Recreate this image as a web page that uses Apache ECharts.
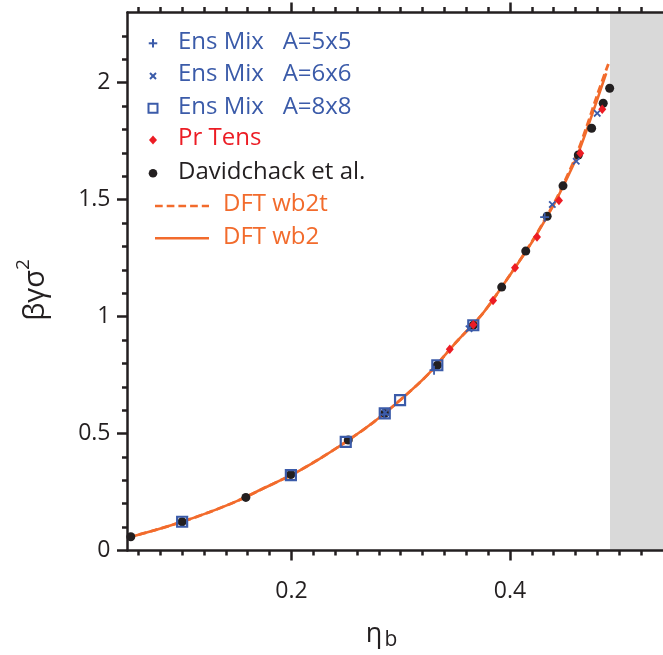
<!DOCTYPE html>
<html>
<head>
<meta charset="utf-8">
<script src="https://cdn.jsdelivr.net/npm/echarts@6/dist/echarts.min.js"></script>
<style>
  html, body { margin: 0; padding: 0; background: #fff; }
  #chart { width: 663px; height: 655px; }
</style>
</head>
<body>
<div id="chart"></div>
<script>
// Surface tension of the hard-sphere fluid at a hard wall vs bulk packing fraction
const etaMajorTicks = [0.2, 0.4];
const etaTickLabels = ['0.2', '0.4'];
const gammaMajorTicks = [0, 0.5, 1, 1.5, 2];
const gammaTickLabels = ['0', '0.5', '1', '1.5', '2'];
const freezingEta = 0.4915;

// Ensemble mixing, A = 5x5
const mix5Eta = [0.285, 0.3305, 0.4317];
const mix5Gamma = [0.582, 0.771, 1.425];
// Ensemble mixing, A = 6x6
const mix6Eta = [0.2858, 0.3625, 0.4387, 0.4606, 0.4798];
const mix6Gamma = [0.590, 0.948, 1.479, 1.664, 1.869];
// Ensemble mixing, A = 8x8
const mix8Eta = [0.1, 0.1995, 0.2497, 0.2854, 0.2994, 0.3335, 0.3664];
const mix8Gamma = [0.123, 0.322, 0.464, 0.586, 0.6425, 0.792, 0.963];
// Pressure tensor route
const prTensEta = [0.3449, 0.3664, 0.3845, 0.4046, 0.4247, 0.4448, 0.4643, 0.4844];
const prTensGamma = [0.860, 0.965, 1.069, 1.209, 1.340, 1.496, 1.698, 1.886];
// Davidchack et al.
const davEta = [0.053, 0.1, 0.1583, 0.1995, 0.252, 0.2854, 0.3335, 0.3664, 0.3924,
                0.4144, 0.434, 0.4485, 0.4625, 0.4747, 0.4853, 0.4912];
const davGamma = [0.059, 0.123, 0.227, 0.325, 0.472, 0.586, 0.792, 0.963, 1.126,
                  1.280, 1.429, 1.559, 1.691, 1.805, 1.912, 1.976];
// DFT, White Bear mark II (tensor version)
const wb2tEta = [0.05, 0.075, 0.1, 0.125, 0.15, 0.175, 0.2, 0.225, 0.25, 0.275, 0.3,
                 0.325, 0.35, 0.375, 0.4, 0.42, 0.44, 0.45, 0.46, 0.47, 0.48, 0.49];
const wb2tGamma = [0.055, 0.087, 0.123, 0.164, 0.211, 0.267, 0.323, 0.390, 0.465, 0.548, 0.645,
                   0.753, 0.887, 1.013, 1.178, 1.320, 1.482, 1.578, 1.682, 1.810, 1.950, 2.080];
// DFT, White Bear mark II
const wb2Eta = [0.05, 0.075, 0.1, 0.125, 0.15, 0.175, 0.2, 0.225, 0.25, 0.275, 0.3,
                0.325, 0.35, 0.375, 0.4, 0.42, 0.44, 0.45, 0.46, 0.47, 0.48, 0.488];
const wb2Gamma = [0.055, 0.087, 0.123, 0.164, 0.211, 0.267, 0.323, 0.390, 0.465, 0.548, 0.645,
                  0.753, 0.887, 1.013, 1.178, 1.318, 1.478, 1.570, 1.670, 1.795, 1.930, 2.040];

const BLUE = '#3B5BA9';
const RED = '#EC1C24';
const BLACK = '#231F20';
const ORANGE = '#F26B2C';
const FONT = '"Open Sans", "Noto Sans", sans-serif';

const zip = (xs, ys) => xs.map((x, i) => [x, ys[i]]);

const plusPath = 'path://M4,0H6V4H10V6H6V10H4V6H0V4H4Z';

function minorValues(lo, hi, step, majors) {
  const out = [];
  for (let k = Math.round(lo / step); k * step <= hi + 1e-9; k++) {
    const v = +(k * step).toFixed(4);
    if (v < lo - 1e-9) continue;
    if (!majors.some(m => Math.abs(m - v) < 1e-9)) out.push(v);
  }
  return out;
}

const X_MIN = 0.05, X_MAX = 0.54, Y_MIN = 0, Y_MAX = 2.3;
const etaMinor = minorValues(0.06, 0.53, 0.02, etaMajorTicks);
const gammaMinor = minorValues(0.1, 2.2, 0.1, gammaMajorTicks);

const axisColor = BLACK;
const labelFor = (ticks, labels) => v => {
  const i = ticks.findIndex(t => Math.abs(t - v) < 1e-9);
  return i >= 0 ? labels[i] : '';
};

function xAxisDef(position, values, len, withLine, withLabels) {
  return {
    type: 'value', min: X_MIN, max: X_MAX, position: position, z: 10,
    axisLine: { show: withLine, onZero: false, lineStyle: { color: axisColor, width: 2.5 } },
    axisTick: { show: true, customValues: values, length: len,
                lineStyle: { color: axisColor, width: 2.5 } },
    axisLabel: withLabels ? {
      show: true, customValues: etaMajorTicks, formatter: labelFor(etaMajorTicks, etaTickLabels),
      margin: 29, fontSize: 23, fontFamily: FONT, color: BLACK
    } : { show: false },
    splitLine: { show: false }
  };
}
function yAxisDef(values, len, withLine, withLabels) {
  return {
    type: 'value', min: Y_MIN, max: Y_MAX, position: 'left', z: 10,
    axisLine: { show: withLine, onZero: false, lineStyle: { color: axisColor, width: 2.5 } },
    axisTick: { show: true, customValues: values, length: len,
                lineStyle: { color: axisColor, width: 2.5 } },
    axisLabel: withLabels ? {
      show: true, customValues: gammaMajorTicks, formatter: labelFor(gammaMajorTicks, gammaTickLabels),
      margin: 17, fontSize: 23, fontFamily: FONT, color: BLACK
    } : { show: false },
    splitLine: { show: false }
  };
}

const chart = echarts.init(document.getElementById('chart'), null, { renderer: 'canvas' });

// legend rows, drawn as graphic elements
const legendX = 153;
const legendRows = [43.3, 76, 108.3, 140, 173.3, 206, 238.3];
const legendTexts = [
  { text: 'Ens Mix   A=5x5', color: BLUE, x: 178 },
  { text: 'Ens Mix   A=6x6', color: BLUE, x: 178 },
  { text: 'Ens Mix   A=8x8', color: BLUE, x: 178 },
  { text: 'Pr Tens', color: RED, x: 178 },
  { text: 'Davidchack et al.', color: BLACK, x: 178 },
  { text: 'DFT wb2t', color: ORANGE, x: 223 },
  { text: 'DFT wb2', color: ORANGE, x: 223 }
];
const graphics = [];
function plusShape(cx, cy, s, w, rot) {
  return {
    type: 'group', x: cx, y: cy, rotation: rot, silent: true, z: 20,
    children: [
      { type: 'rect', shape: { x: -s / 2, y: -w / 2, width: s, height: w }, style: { fill: BLUE } },
      { type: 'rect', shape: { x: -w / 2, y: -s / 2, width: w, height: s }, style: { fill: BLUE } }
    ]
  };
}
graphics.push(plusShape(legendX, legendRows[0], 8.5, 2, 0));
graphics.push(plusShape(legendX, legendRows[1], 8.5, 2, Math.PI / 4));
graphics.push({ type: 'rect', silent: true, z: 20,
  shape: { x: legendX - 4.5, y: legendRows[2] - 4.5, width: 9, height: 9 },
  style: { fill: 'transparent', stroke: BLUE, lineWidth: 2 } });
graphics.push({ type: 'polygon', silent: true, z: 20,
  shape: { points: [[legendX, legendRows[3] - 4.5], [legendX + 4, legendRows[3]],
                    [legendX, legendRows[3] + 4.5], [legendX - 4, legendRows[3]]] },
  style: { fill: RED } });
graphics.push({ type: 'circle', silent: true, z: 20,
  shape: { cx: legendX, cy: legendRows[4], r: 4.3 }, style: { fill: BLACK } });
graphics.push({ type: 'line', silent: true, z: 20,
  shape: { x1: 155, y1: legendRows[5], x2: 209, y2: legendRows[5] },
  style: { stroke: ORANGE, lineWidth: 2.5, lineDash: [7.7, 4] } });
graphics.push({ type: 'line', silent: true, z: 20,
  shape: { x1: 155, y1: legendRows[6], x2: 209, y2: legendRows[6] },
  style: { stroke: ORANGE, lineWidth: 2.5 } });
legendTexts.forEach((t, i) => {
  graphics.push({ type: 'text', silent: true, z: 20, x: t.x, y: legendRows[i] - 1.5,
    style: { text: t.text, fill: t.color, fontSize: 24, fontFamily: FONT,
             align: 'left', verticalAlign: 'middle' } });
});
// axis titles
graphics.push({ type: 'text', silent: true, z: 20, x: 374, y: 634,
  style: { text: 'η', fill: BLACK, fontSize: 27, fontFamily: FONT, align: 'center', verticalAlign: 'middle' } });
graphics.push({ type: 'text', silent: true, z: 20, x: 391, y: 640,
  style: { text: 'b', fill: BLACK, fontSize: 21, fontFamily: FONT, align: 'center', verticalAlign: 'middle' } });
graphics.push({ type: 'text', silent: true, z: 20, x: 32, y: 290, rotation: Math.PI / 2,
  style: {
    text: '{g|βγσ}{s|2}', align: 'center', verticalAlign: 'middle',
    rich: {
      g: { fontSize: 29, fontFamily: FONT, fill: BLACK, color: BLACK, lineHeight: 36, verticalAlign: 'bottom' },
      s: { fontSize: 19, fontFamily: FONT, fill: BLACK, color: BLACK, verticalAlign: 'top' }
    }
  } });

const option = {
  animation: false,
  backgroundColor: '#ffffff',
  grid: { left: 127.5, top: 12.5, right: -1, bottom: 104.5, containLabel: false },
  xAxis: [
    xAxisDef('bottom', etaMajorTicks, 10, true, true),
    xAxisDef('bottom', etaMinor, 5, false, false),
    xAxisDef('top', etaMajorTicks, 10, true, false),
    xAxisDef('top', etaMinor, 5.5, false, false)
  ],
  yAxis: [
    yAxisDef(gammaMajorTicks, 10.5, true, true),
    yAxisDef(gammaMinor, 5.5, false, false)
  ],
  graphic: graphics,
  series: [
    {
      name: 'freezing', type: 'line', data: [], z: 1, silent: true,
      markArea: {
        silent: true, itemStyle: { color: '#D9D9D9' },
        data: [[{ xAxis: freezingEta }, { xAxis: X_MAX }]]
      }
    },
    {
      name: 'DFT wb2', type: 'line', data: zip(wb2Eta, wb2Gamma), z: 3,
      smooth: 0.3, showSymbol: false, lineStyle: { color: ORANGE, width: 2.6 }
    },
    {
      name: 'DFT wb2t', type: 'line', data: zip(wb2tEta, wb2tGamma), z: 3,
      smooth: 0.3, showSymbol: false, lineStyle: { color: ORANGE, width: 2.8, type: [7.7, 4] }
    },
    {
      name: 'Davidchack et al.', type: 'scatter', data: zip(davEta, davGamma), z: 4,
      symbol: 'circle', symbolSize: 9, itemStyle: { color: BLACK, opacity: 1 }
    },
    {
      name: 'Ens Mix   A=8x8', type: 'scatter', data: zip(mix8Eta, mix8Gamma), z: 5,
      symbol: 'rect', symbolSize: 10,
      itemStyle: { color: 'rgba(0,0,0,0)', borderColor: BLUE, borderWidth: 2.2, opacity: 1 }
    },
    {
      name: 'Ens Mix   A=5x5', type: 'scatter', data: zip(mix5Eta, mix5Gamma), z: 6,
      symbol: plusPath, symbolSize: 9, itemStyle: { color: BLUE, opacity: 1 }
    },
    {
      name: 'Ens Mix   A=6x6', type: 'scatter', data: zip(mix6Eta, mix6Gamma), z: 6,
      symbol: plusPath, symbolSize: 9, symbolRotate: 45, itemStyle: { color: BLUE, opacity: 1 }
    },
    {
      name: 'Pr Tens', type: 'scatter', data: zip(prTensEta, prTensGamma), z: 7,
      symbol: 'diamond', symbolSize: [8, 9.5], itemStyle: { color: RED, opacity: 1 }
    }
  ]
};
chart.setOption(option);
</script>
</body>
</html>
